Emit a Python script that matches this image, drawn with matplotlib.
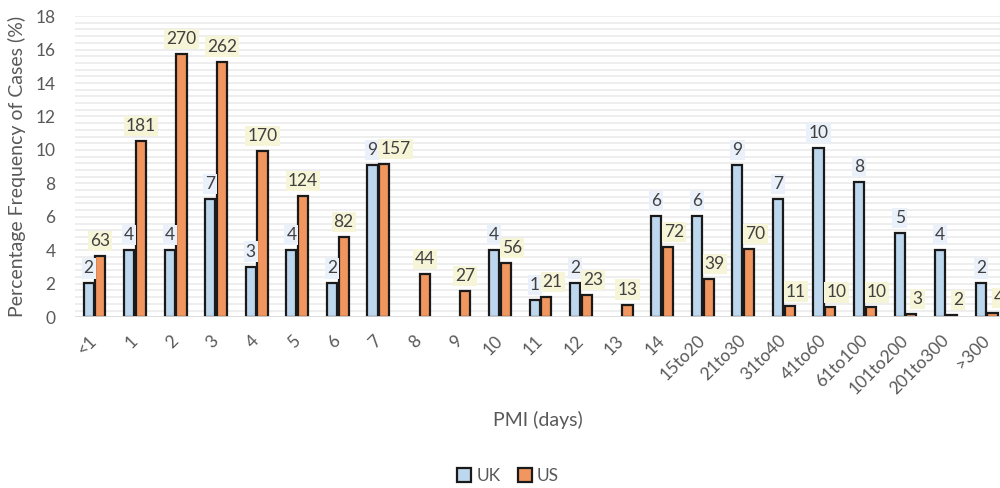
import matplotlib
matplotlib.use("Agg")
import matplotlib.pyplot as plt
import numpy as np
from matplotlib.patches import Patch

# Post-mortem interval categories
categories = ["<1", "1", "2", "3", "4", "5", "6", "7", "8", "9", "10", "11", "12",
              "13", "14", "15to20", "21to30", "31to40", "41to60", "61to100",
              "101to200", "201to300", ">300"]

# Number of cases per category
uk_counts = [2, 4, 4, 7, 3, 4, 2, 9, 0, 0, 4, 1, 2, 0, 6, 6, 9, 7, 10, 8, 5, 4, 2]
us_counts = [63, 181, 270, 262, 170, 124, 82, 157, 44, 27, 56, 21, 23, 13, 72, 39,
             70, 11, 10, 10, 3, 2, 4]

y_ticks = [0, 2, 4, 6, 8, 10, 12, 14, 16, 18]

uk_pct = np.array(uk_counts) / sum(uk_counts) * 100
us_pct = np.array(us_counts) / sum(us_counts) * 100

plt.rcParams["font.family"] = ["Lato", "DejaVu Sans"]

UK_COLOR = "#BDD7EE"
US_COLOR = "#F0965E"
UK_BOX = "#EAF1FA"
US_BOX = "#F7F5D7"
EDGE = "#1a1a1a"
TEXT = "#595959"
LABEL = "#404040"

fig = plt.figure(figsize=(10, 4.88), dpi=100)
ax = fig.add_axes([0.075, 0.350, 0.925, 0.617])

x = np.arange(len(categories))
w = 0.25
off = 0.145

uk_edges = [EDGE if c > 0 else "none" for c in uk_counts]
us_edges = [EDGE if c > 0 else "none" for c in us_counts]
ax.bar(x - off, uk_pct, width=w, color=UK_COLOR, edgecolor=uk_edges,
       linewidth=1.6, zorder=3)
ax.bar(x + off, us_pct, width=w, color=US_COLOR, edgecolor=us_edges,
       linewidth=1.6, zorder=3)

ax.set_xlim(-0.48, 22.33)
ax.set_ylim(0, 18)

# Fine horizontal grid
for g in np.arange(0.4, 18.01, 0.4):
    ax.axhline(g, color="#EDEDED", linewidth=1.3, zorder=0)
ax.axhline(0, color="#D9D9D9", linewidth=2, zorder=4)

for s in ax.spines.values():
    s.set_visible(False)

ax.set_yticks(y_ticks)
ax.set_yticklabels([str(t) for t in y_ticks], fontsize=12.5, color=TEXT)
ax.tick_params(axis="y", length=0, pad=14)

ax.set_xticks(x)
ax.set_xticklabels(categories, rotation=45, ha="right", va="center",
                   rotation_mode="anchor", fontsize=12.5, color=TEXT)
ax.tick_params(axis="x", length=0, pad=15)

ax.set_ylabel("Percentage Frequency of Cases (%)", fontsize=14, color=TEXT,
              labelpad=7)
ax.set_xlabel("PMI (days)", fontsize=14, color=TEXT, labelpad=10)

# Count labels above bars
for i in range(len(categories)):
    if uk_counts[i] > 0:
        ax.annotate(str(uk_counts[i]), (x[i] - off, uk_pct[i]),
                    xytext=(0, 5), textcoords="offset points",
                    ha="center", va="bottom", fontsize=12.5, color=LABEL,
                    bbox=dict(boxstyle="square,pad=0.12", fc=UK_BOX, ec="none"),
                    zorder=5)
    if us_counts[i] > 0:
        dx = 0
        if uk_counts[i] > 0 and (uk_pct[i] > us_pct[i] - 1.5):
            dx = 8 if len(str(us_counts[i])) >= 3 else 4.5
        ax.annotate(str(us_counts[i]), (x[i] + off, us_pct[i]),
                    xytext=(dx, 5), textcoords="offset points",
                    ha="center", va="bottom", fontsize=12.5, color=LABEL,
                    bbox=dict(boxstyle="square,pad=0.12", fc=US_BOX, ec="none"),
                    zorder=5)

handles = [Patch(facecolor=UK_COLOR, edgecolor=EDGE, linewidth=1.6, label="UK"),
           Patch(facecolor=US_COLOR, edgecolor=EDGE, linewidth=1.6, label="US")]
fig.legend(handles=handles, loc="center", bbox_to_anchor=(0.508, 0.025), ncol=2,
           frameon=False, fontsize=12.5, labelcolor=TEXT, handlelength=0.8,
           handleheight=0.9, handletextpad=0.3, columnspacing=1.0)

fig.savefig("out.png", dpi=100)
